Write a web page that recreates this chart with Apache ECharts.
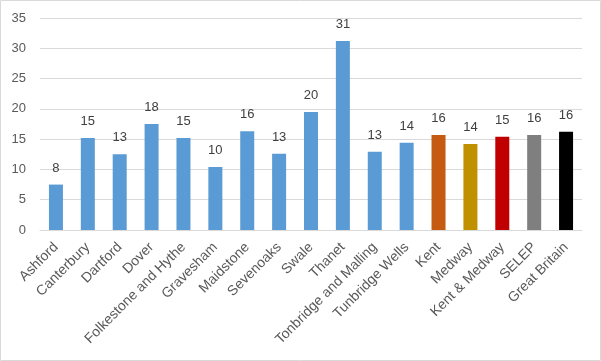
<!DOCTYPE html>
<html><head><meta charset="utf-8">
<script src="https://cdn.jsdelivr.net/npm/echarts@6/dist/echarts.min.js"></script>
<style>html,body{margin:0;padding:0;background:#fff}#c{width:601px;height:361px}</style>
</head><body><div id="c"></div>
<script>
const categories = ["Ashford","Canterbury","Dartford","Dover","Folkestone and Hythe","Gravesham","Maidstone","Sevenoaks","Swale","Thanet","Tonbridge and Malling","Tunbridge Wells","Kent","Medway","Kent & Medway","SELEP","Great Britain"];
const values = [7.5,15.2,12.5,17.5,15.2,10.4,16.3,12.6,19.5,31.2,12.9,14.4,15.7,14.2,15.4,15.7,16.2];
const barColors = ["#5B9BD5","#5B9BD5","#5B9BD5","#5B9BD5","#5B9BD5","#5B9BD5","#5B9BD5","#5B9BD5","#5B9BD5","#5B9BD5","#5B9BD5","#5B9BD5","#C55A11","#BF9000","#C00000","#7F7F7F","#000000"];
const yTicks = [0,5,10,15,20,25,30,35];

const chart = echarts.init(document.getElementById('c'), null, {renderer:'canvas'});
const font = 'Liberation Sans';
chart.setOption({
  animation:false,
  textStyle:{fontFamily:font},
  graphic:[{type:'rect',shape:{x:0.5,y:0.5,width:600,height:360},style:{fill:'none',stroke:'#D9D9D9',lineWidth:1},silent:true}],
  grid:{left:40,right:19,top:18,bottom:131,containLabel:false},
  xAxis:{type:'category',data:categories,
    axisLine:{lineStyle:{color:'#D9D9D9'}},axisTick:{show:false},
    axisLabel:{rotate:45,interval:0,color:'#595959',fontSize:14,fontFamily:font,margin:15}},
  yAxis:{type:'value',min:yTicks[0],max:yTicks[yTicks.length-1],interval:5,
    axisLine:{show:false},axisTick:{show:false},
    splitLine:{lineStyle:{color:'#D9D9D9'}},
    axisLabel:{color:'#595959',fontSize:13,fontFamily:font,margin:14}},
  series:[{type:'bar',barWidth:14,
    data:values.map((v,i)=>({value:v,itemStyle:{color:barColors[i]}})),
    label:{show:true,position:'top',distance:10,color:'#404040',fontSize:13,fontFamily:font,
      formatter:p=>Math.round(p.value)}}]
});
</script></body></html>
